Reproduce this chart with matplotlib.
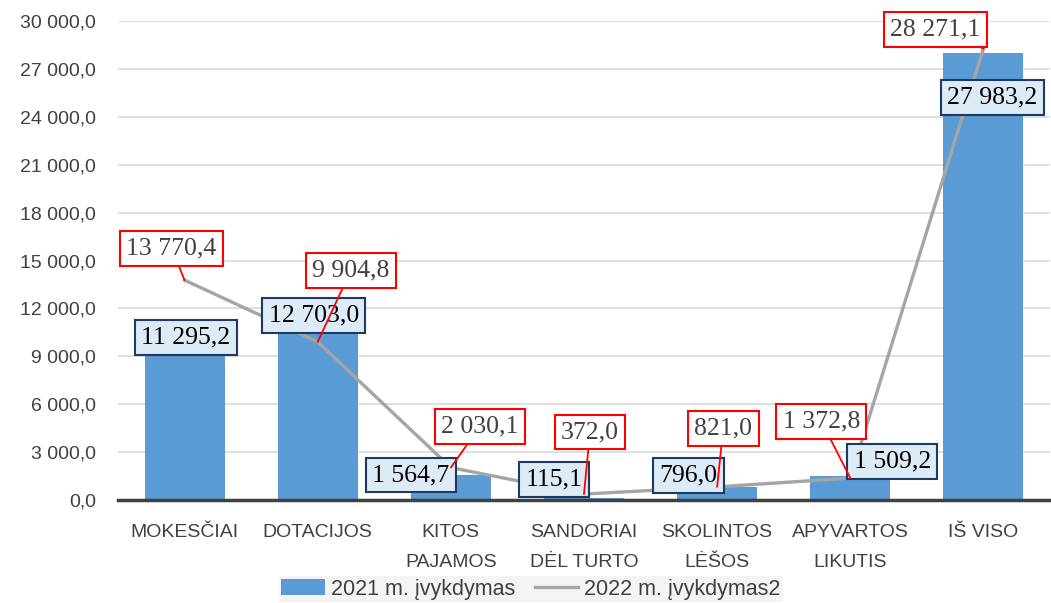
import matplotlib
matplotlib.use("Agg")
import matplotlib.pyplot as plt
from matplotlib.ticker import FuncFormatter, MultipleLocator

categories = ["MOKESČIAI", "DOTACIJOS", "KITOS\nPAJAMOS", "SANDORIAI\nDĖL TURTO",
              "SKOLINTOS\nLĖŠOS", "APYVARTOS\nLIKUTIS", "IŠ VISO"]
vykdymas_2021 = [11295.2, 12703.0, 1564.7, 115.1, 796.0, 1509.2, 27983.2]
vykdymas_2022 = [13770.4, 9904.8, 2030.1, 372.0, 821.0, 1372.8, 28271.1]

# label box centres, offset in pixels from the data point
bar_label_offsets = [(1, -18), (-4, -18), (-40, 0), (-30, 19), (-29, 12), (42, 14), (9, -44)]
line_label_offsets = [(-13, 32), (33, 71), (29, 41), (6, 62), (6, 58), (-29, 57), (-48, 19)]


def lt_format(v, pos=None):
    s = f"{v:,.1f}"
    return s.replace(",", " ").replace(".", ",")


plt.rcParams["font.family"] = ["Liberation Sans Narrow", "Liberation Sans", "DejaVu Sans"]

fig = plt.figure(figsize=(10.51, 6.03), dpi=100)
ax = fig.add_axes([118 / 1051, 103 / 603, 932 / 1051, 479 / 603])

x = list(range(len(categories)))
bars = ax.bar(x, vykdymas_2021, width=0.6, color="#5B9BD5", zorder=2, label="2021 m. įvykdymas")
line, = ax.plot(x, vykdymas_2022, color="#A5A5A5", lw=2.4, zorder=3, label="2022 m. įvykdymas2")

ax.set_xlim(-0.5, len(categories) - 0.5)
ax.set_ylim(0, 30000)
ax.yaxis.set_major_locator(MultipleLocator(3000))
ax.yaxis.set_major_formatter(FuncFormatter(lt_format))
ax.grid(axis="y", color="#D9D9D9", lw=1.2, zorder=0)
ax.set_axisbelow(True)
for side in ["left", "right", "top"]:
    ax.spines[side].set_visible(False)
ax.spines["bottom"].set_color("#404040")
ax.spines["bottom"].set_linewidth(2.5)
ax.spines["bottom"].set_zorder(4)
ax.tick_params(axis="y", length=0, pad=16, labelsize=14, labelcolor="#404040")
ax.tick_params(axis="x", length=0, pad=17, labelsize=14, labelcolor="#404040")
ax.set_xticks(x)
ax.set_xticklabels(categories, linespacing=2.0, va="top")

serif = ["Liberation Serif", "DejaVu Serif"]
for i, v in enumerate(vykdymas_2021):
    ax.annotate(lt_format(v), xy=(i, v), xytext=bar_label_offsets[i],
                textcoords="offset pixels", ha="center", va="center",
                fontsize=18.5, family=serif, color="black", zorder=6,
                bbox=dict(boxstyle="square,pad=0.25", fc="#DDEBF7", ec="#1F3864", lw=1.5))

for i, v in enumerate(vykdymas_2022):
    ax.annotate(lt_format(v), xy=(i, v), xytext=line_label_offsets[i],
                textcoords="offset pixels", ha="center", va="center",
                fontsize=18.5, family=serif, color="#404040", zorder=7,
                bbox=dict(boxstyle="square,pad=0.25", fc="white", ec="#FF0000", lw=1.5),
                arrowprops=dict(arrowstyle="-", color="#FF0000", lw=1.3,
                                shrinkA=0, shrinkB=0))

leg = fig.legend(handles=[bars, line], loc="center",
                 bbox_to_anchor=(531 / 1051, 1 - 589 / 603), ncol=2,
                 frameon=True, fontsize=15.5, handlelength=2.0, columnspacing=0.9,
                 handletextpad=0.3, borderpad=0.12, fancybox=False)
leg.get_frame().set_facecolor("#F2F2F2")
leg.get_frame().set_edgecolor("none")
for t in leg.get_texts():
    t.set_color("#404040")

fig.savefig("out.png", dpi=100)
